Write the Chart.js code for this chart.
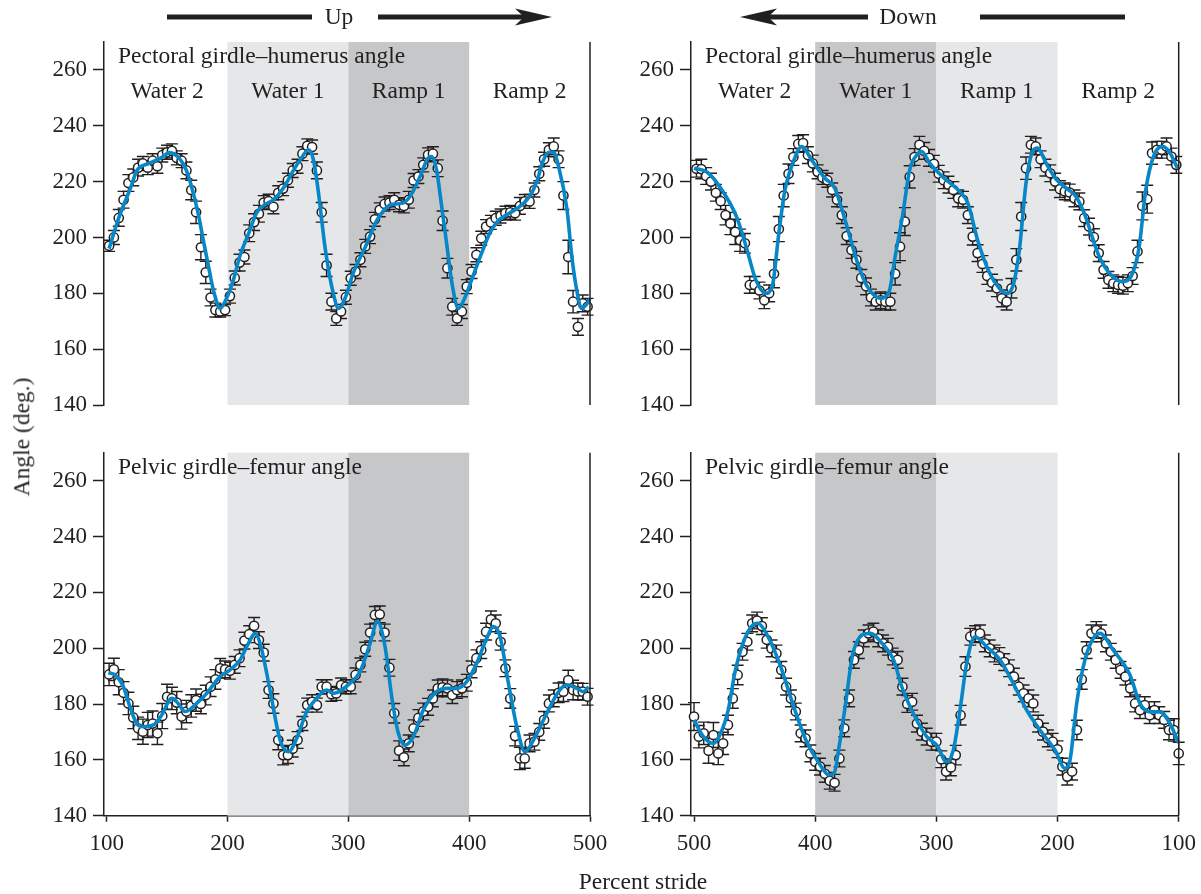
<!DOCTYPE html>
<html><head><meta charset="utf-8">
<script src="https://cdn.jsdelivr.net/npm/chart.js@4.4.1/dist/chart.umd.min.js"></script>
<style>
html,body{margin:0;padding:0;background:#fff;}
#wrap{position:relative;width:1201px;height:894px;overflow:hidden;font-family:"Liberation Serif","Times New Roman",serif;color:#231f20;}
canvas{position:absolute;left:0;top:0;}
.lbl{position:absolute;white-space:nowrap;font-size:23.5px;line-height:1;}
svg{position:absolute;left:0;top:0;}
</style></head><body>
<div id="wrap">
<canvas id="c1" width="1201" height="894"></canvas>
<canvas id="c2" width="1201" height="894"></canvas>
<canvas id="c3" width="1201" height="894"></canvas>
<canvas id="c4" width="1201" height="894"></canvas>
<svg width="1201" height="40" viewBox="0 0 1201 40">
  <rect x="167" y="14.5" width="145" height="5" fill="#231f20"/>
  <rect x="378" y="14.5" width="148" height="5" fill="#231f20"/>
  <polygon points="552,17 515,8.5 524,17 515,25.5" fill="#231f20"/>
  <polygon points="740,17 777,8.5 768,17 777,25.5" fill="#231f20"/>
  <rect x="768" y="14.5" width="100" height="5" fill="#231f20"/>
  <rect x="980" y="14.5" width="145" height="5" fill="#231f20"/>
</svg>
</div>
<script>
// ---------------- data ----------------
const angleTicks = [140,160,180,200,220,240,260];
const strideTicks = [100,200,300,400,500];
const segmentNames = ['Water 2','Water 1','Ramp 1','Ramp 2'];
const segmentCentersUp = [150,250,350,450];
const segmentCentersDown = [450,350,250,150];

const strideUp = [102,106,110,114,118,122,126,130,134,138,142,146,150,154,158,162,166,170,174,178,182,186,190,194,198,
202,206,210,214,218,222,226,230,234,238,242,246,250,254,258,262,266,270,274,278,282,286,290,294,298,
302,306,310,314,318,322,326,330,334,338,342,346,350,354,358,362,366,370,374,378,382,386,390,394,398,
402,406,410,414,418,422,426,430,434,438,442,446,450,454,458,462,466,470,474,478,482,486,490,494,498];

const strideDown = [500,496,492,488,484,480,476,472,468,464,460,456,452,448,444,440,436,432,428,424,420,416,412,408,404,
400,396,392,388,384,380,376,372,368,364,360,356,352,348,344,340,336,332,328,324,320,316,312,308,304,
300,296,292,288,284,280,276,272,268,264,260,256,252,248,244,240,236,232,228,224,220,216,212,208,204,
200,196,192,188,184,180,176,172,168,164,160,156,152,148,144,140,136,132,128,124,120,116,112,108,104,100];

const strideDownPectoral = [498,494,490,486,482,478,474,470,466,462,458,454,450,446,442,438,434,430,426,422,418,414,410,406,402,
398,394,390,386,382,378,374,370,366,362,358,354,350,346,342,338,334,330,326,322,318,314,310,306,302,
298,294,290,286,282,278,274,270,266,262,258,254,250,246,242,238,234,230,226,222,218,214,210,206,202,
198,194,190,186,182,178,174,170,166,162,158,154,150,146,142,138,134,130,126,122,118,114,110,106,102];

// Pectoral girdle–humerus angle, Up
const pectoralUp = [197,200,207,213.5,219.5,221.5,225,226.5,225,227.5,225.5,229.5,230.5,231,228.5,227.5,224,217,209,196.5,187.5,178.5,174,173.5,174,
179,185.5,191,193,201.5,205.5,208.5,212.5,213,211,216,217.5,220.5,224,225.5,230,232.8,232.4,224,209,190,177,171,173.5,178.6,
185.4,187.8,192,196.8,200.3,206.5,209.9,212,212.5,213.5,211.7,211.3,213.5,220.4,221.8,226,229.6,230,224.8,206,189,175.2,171,173.5,182.4,
187.8,193.8,199.7,203.9,205.4,206.9,207.7,208.7,209,208.7,211.3,212.9,212.9,217,222.8,228,231.4,232.6,228,215,193,177,168,176.4,175.2];
const pectoralUpErr = [2,2.5,3,3,3,3,3,2.5,2.5,2.5,2.5,2.5,2.5,2.5,2.5,2.5,3,
3.5,4,4.5,4,3,2.5,2,2,
2.5,2.5,3,2.5,3,3,3,2.5,2.5,2.5,2.5,2.5,2.5,2.5,2.5,2.5,2.5,2.5,
3,3.5,4,3,2.5,2.5,2.5,
2.5,2.5,2.5,2.5,2.5,2.5,2.5,2.5,2.5,2.5,2.5,2.5,3,2.5,2.5,2.5,2.5,2.5,
3,3.5,3.5,3,2.5,2.5,2.5,
2.5,2.5,2.5,2.5,2.5,2.5,2.5,2.5,2.5,2.5,3,2.5,2.5,2.5,2.5,2.5,2.5,3,
3,5,6,4,3,3,3];
const pectoralUpFitX = [102,110,120,125,135,145,152,160,166,171,176,180,185,189,194,199,205,210,218,224,230,238,246,254,262,267,271,275,281,287,292,298,304,314,323,330,335,345,351,358,366,369,373,377,381,386,391,396,403,410,417,424,431,440,450,456,461,466,470,474,481,485,489,493,497,500];
const pectoralUpFitY = [196,207,218,224,226.5,228.5,230.4,228.4,224,217,208,199,188,180,174.6,178,185,193,202,208.7,211.5,213.5,217.5,223.6,229,231.4,228,217,195.6,181,174.6,179,187.2,196.5,205.7,210,211.7,212.3,214.7,220.5,228.4,229,224.2,212,199,183,174.6,178,186,194,201.5,206,208.1,210.5,214.7,220,227.2,230.5,230.4,225.4,209.9,193,181.2,174.6,176,178];

// Pectoral girdle–humerus angle, Down
const pectoralDown = [224.6,224.5,222,220,216,213,208,205,202,199,197.9,183,183,181,177.5,180,187,203,215,222.8,228.8,233.5,233.8,229.5,226.5,
223.5,221.5,220.5,217,213.5,208,200.5,195.5,192,185.5,182.5,178.5,177,177.5,177,177,187,196.7,205.7,221.7,228.8,233.2,231,228.5,226.4,
222.8,220.5,218.9,217,214,213.5,208,200.3,194.4,190.5,186.2,183.8,181.8,178.2,177,181.8,192,207.5,224.8,233.2,232.6,228,225,223,220,
217.3,216.5,216.1,214,212.9,206.9,203.9,200.1,194.4,188.4,184.8,183.6,183,182.7,183.6,186.2,195,211.3,213.7,230.2,231.4,231.4,232.6,229,226];
const pectoralDownErr = [3,3.5,3,3,3,3,3.5,4,4.5,4,3.5,3,3,3,
3,3,5,4.5,4,3.5,3,3,3,3,3,
2.5,2.5,2.5,2.5,2.5,3,3,3,3,3,3,3,3,3,
3,3,4,5,5,4,3,3,
3,3,3,3,3,3,3,3,3,3,3,3,3,3,3,3,3,3,
3.5,4,5,4,3,3,
3,3,3,3,3,3,3,3,3,3,3,3,3,3,3,3,3,3,3,3,
4,5,5,4,3,3,3,3,3];
const pectoralDownFitX = [500,490,479,465,457,449,441,435.5,430,425,418,411,403,392,384,373,365,357,346,339,334,328,322,316,312,305.5,294.5,281,274,266,256,248,242.5,237,231.5,226,220.5,216.4,209.5,201.3,193,184.8,178,165.6,154.6,146.4,138.1,132.6,127.2,120.3,113.4,107.9,101];
const pectoralDownFitY = [224.8,223.6,218.3,207.5,196.7,184.8,180,182.4,201.5,217,227.2,232.6,227.8,221.2,217.7,202.7,190.8,182.4,178.2,180.6,193.2,207.5,224.2,229.6,230.8,226.6,221.6,216.5,212.3,199.1,187.2,181.8,180,182.4,195.6,219.5,230.8,232,226.6,220.9,217.7,214.7,208.7,193.2,186,184.2,187.2,196.7,217,229.6,232.6,230.8,224.8];

// Pelvic girdle–femur angle, Up
const pelvicUp = [190.6,192.4,187.8,184,180.2,175.2,171.3,170.1,172.5,173,169.5,175.7,182.6,182,180.5,175.5,177.3,179.3,181.4,180,183.2,186.2,188.8,192.8,192.4,
191.9,194,196.4,202.7,205,208,202.9,198.4,185,180.2,167.1,161.7,161.7,164,167.1,173,179.6,180.8,179.6,186.2,186.2,183.5,183.8,186.8,186.2,
186.2,190.4,194,199.6,205.6,211.9,212.1,205.6,193,176.7,163.3,160.9,165.9,171.3,175,177.3,179,182,185.6,186,185.6,183.2,185,185.6,187.6,
192.4,196.4,199.3,205.9,210.3,208.9,202.3,192.8,182,168.5,160.5,160.5,165.9,166.5,170,174.3,180.2,182,184,184.4,188.6,185,184.5,184.4,182.6];
const pelvicUpErr = [4,4,4.5,4,4,4,4,4.5,4.5,4.5,4,4.5,4.5,4,4,4.5,4,4,4,3.5,3.5,3.5,3.5,3.5,3,
3,3,3,3,3,3,3,3,3,3.5,3.5,3.5,3,3,3,2.5,2.5,2.5,2.5,2.5,2.5,2.5,2.5,2.5,2.5,
2.5,2.5,2.5,2.5,3,3,3,3,3,3.5,3.5,3,3,3,3,3,3,3,3,3,3,3,3,3,3,
3,3,3,3,3,3,3,3,3.5,3.5,4,3.5,3,3,3,3,3,3,3.5,3.5,3.5,3.5,3,3,3];
const pelvicUpFitX = [101.4,107,113.8,119.3,124.8,130,138.6,145.5,153.8,158,165,174.5,182.8,193.8,202,210.4,217.3,222.8,227,235.2,243.5,250.4,257.3,265.6,273.8,282,287.6,301.4,309.7,318,324,330.4,335.9,341.4,347,353.8,362,373,381.4,389.7,398,406.2,414.5,420,425.6,432.5,439.4,446.3,453.2,464.2,473.9,480.8,489,494.5,498.7];
const pelvicUpFitY = [191.2,190.4,186.2,179,173,171.9,172.5,176,182,180.8,177.3,180.2,183.8,189.8,192.2,195.8,201.7,205.3,201.7,185,167.1,162.9,167.7,177.3,182,185,183.8,187.4,191.6,201.7,209.5,200.5,182.6,169.5,165.3,168.3,177.8,184.4,185.6,185.6,188,194.6,203.5,207.7,204.1,187.4,171.9,162.9,167.1,176.6,184.4,186.8,185.6,184.4,186.2];

// Pelvic girdle–femur angle, Down
const pelvicDown = [175.5,168.3,169.5,163.3,168.9,162.3,165.9,172.5,182,190.4,198.7,202.3,208.9,209.9,207.9,203,199.9,198.1,192.2,186.2,182,177.3,169.5,167.7,162.3,
159.3,157.6,155,152.5,151.8,160.5,171.3,182,195.8,199.3,203.5,205.3,205.9,203.5,201.7,200.5,197,195.8,186.2,180,180.8,173,170.1,168.3,166.5,
166.5,160.2,155.8,157.3,161.7,176,193.4,204.1,205,205.3,201.7,199.9,198.1,197.2,195,192.8,189.8,186.2,183.8,182,180.2,173,170.1,167.7,166.5,
163.8,157.6,154,155.8,170.7,188.8,199.3,205.3,206.5,205.3,201.7,198.7,195.8,192.2,189.8,185.6,180.2,177.8,179.6,176,177.8,176,174.3,170.7,170.7,162.3];
const pelvicDownErr = [5,4,4,4.5,4.5,4,4,3.5,3.5,3.5,3,
3,3,3,3,3,3,3,3,3,3,3,3,3,3,
3,3,3,3,3,3,3,3,3,3,3,3,3,3,
3,3,3,3,3,3,3,3,3,3,3,3,
3,3,3,3.5,3.5,3.5,3,3,3,3,3,3,
3,3,3,3,3,3,3,3,3,3,3,3,3,
3,3,3,3.5,3.5,3,3,3,3,3,3,3,3,
3,3,3,3,3,3,3,3,3,3.5,4,4];
const pelvicDownFitX = [500,492.3,484,478.7,471.8,466.4,459.6,452.7,447.3,440.4,429.5,418.6,407.7,396.7,388.5,384.4,380.3,374.9,369.4,361.2,354.4,344.8,335.3,328.4,319,308,299.7,291.5,286,280.5,275,268.1,258.5,247.5,236.5,225.5,214.5,202.1,193.9,189.7,184.2,177.4,170.5,165,154,140.2,132,123.7,115.5,107.2,100];
const pelvicDownFitY = [174.3,168.3,165.9,168.9,177.8,191,201.7,207.7,208.9,205.3,194.6,180.2,167.1,158.7,154.6,155.2,164.7,180.2,197,204.7,205.3,201.7,195.8,186,176.6,168.3,165.3,159.3,163.5,177.8,194.6,204.1,200.5,195.8,187.4,177.8,170.7,163.5,157,159.9,180.2,195.8,203.5,205.3,199.3,190.4,180.2,177.2,177.2,173,166];

// ---------------- style ----------------
const INK = '#231f20';
const LIGHT = '#e6e7e8';
const DARK = '#c6c7c8';
const BLUE = '#0787c8';
const FONT = 'Liberation Serif';

const wrap = document.getElementById('wrap');

function addText(text, x, baseline, center) {
  const d = document.createElement('div');
  d.className = 'lbl';
  d.textContent = text;
  d.style.left = x + 'px';
  d.style.top = (baseline - 20) + 'px';
  if (center) d.style.transform = 'translateX(-50%)';
  wrap.appendChild(d);
  return d;
}

function decor(p) {
  return {
    id: 'decor' + p.id,
    beforeDatasetsDraw(chart) {
      const {ctx, chartArea: a, scales: {x, y}} = chart;
      ctx.save();
      p.bands.forEach(b => {
        const x1 = x.getPixelForValue(b.from), x2 = x.getPixelForValue(b.to);
        ctx.fillStyle = b.color;
        ctx.fillRect(Math.min(x1, x2), a.top, Math.abs(x2 - x1), a.bottom - a.top);
      });
      ctx.strokeStyle = INK;
      ctx.lineWidth = 1.4;
      for (let i = 0; i < p.ys.length && i < p.xs.length; i++) {
        const px = x.getPixelForValue(p.xs[i]);
        const t = y.getPixelForValue(p.ys[i] + p.err[i]);
        const bt = y.getPixelForValue(p.ys[i] - p.err[i]);
        ctx.beginPath();
        ctx.moveTo(px, t); ctx.lineTo(px, bt);
        ctx.moveTo(px - 6, t); ctx.lineTo(px + 6, t);
        ctx.moveTo(px - 6, bt); ctx.lineTo(px + 6, bt);
        ctx.stroke();
      }
      ctx.restore();
    },
    afterDatasetsDraw(chart) {
      const {ctx, chartArea: a} = chart;
      ctx.save();
      ctx.strokeStyle = INK;
      ctx.lineWidth = 1.5;
      ctx.beginPath();
      ctx.moveTo(a.right, a.top); ctx.lineTo(a.right, a.bottom);
      ctx.stroke();
      ctx.restore();
    }
  };
}

function makePanel(p) {
  const xAxis = {
    type: 'linear',
    min: p.xmin, max: p.xmax, reverse: p.reverse,
    display: p.showX,
    afterBuildTicks: s => { s.ticks = strideTicks.map(v => ({value: v})); },
    afterFit: s => { s.height = p.showX ? 45 : 0; },
    grid: {display: true, drawOnChartArea: false, drawTicks: true, tickLength: 6, tickColor: INK, tickWidth: 1.5},
    border: {display: true, color: INK, width: 1.5},
    ticks: {color: INK, font: {family: FONT, size: 23}, padding: 8, maxRotation: 0, autoSkip: false}
  };
  const yAxis = {
    type: 'linear', min: 140, max: 270,
    afterBuildTicks: s => { s.ticks = angleTicks.map(v => ({value: v})); },
    afterFit: s => { s.width = 60; },
    grid: {display: true, drawOnChartArea: false, drawTicks: true, tickLength: 11, tickColor: INK, tickWidth: 1.5},
    border: {display: true, color: INK, width: 1.5},
    ticks: {color: INK, font: {family: FONT, size: 23}, padding: 6, autoSkip: false}
  };
  const chart = new Chart(document.getElementById(p.canvas), {
    type: 'scatter',
    data: {
      datasets: [
        {
          data: p.fitX.map((v, i) => ({x: v, y: p.fitY[i]})),
          showLine: true, borderColor: BLUE, borderWidth: 3.6, pointRadius: 0,
          cubicInterpolationMode: 'monotone', order: 0, clip: false
        },
        {
          data: p.xs.map((v, i) => ({x: v, y: p.ys[i]})),
          showLine: false, pointRadius: 4.6, pointBackgroundColor: '#ffffff',
          pointBorderColor: INK, pointBorderWidth: 1.5, order: 1, clip: false
        }
      ]
    },
    options: {
      responsive: false, animation: false, devicePixelRatio: 1,
      layout: {padding: p.padding},
      plugins: {legend: {display: false}, tooltip: {enabled: false}},
      events: [],
      scales: {x: xAxis, y: yAxis}
    },
    plugins: [decor(p)]
  });
  const a = chart.chartArea;
  addText(p.title, a.left + 14, a.top + 22, false);
  if (p.segCenters) {
    p.segCenters.forEach((c, i) => addText(segmentNames[i], chart.scales.x.getPixelForValue(c), a.top + 57, true));
  }
  return chart;
}

const upBands = [{from: 200, to: 300, color: LIGHT}, {from: 300, to: 400, color: DARK}];
const downBands = [{from: 400, to: 300, color: DARK}, {from: 300, to: 200, color: LIGHT}];

makePanel({id: 1, canvas: 'c1', xs: strideUp, ys: pectoralUp, err: pectoralUpErr, fitX: pectoralUpFitX, fitY: pectoralUpFitY,
  xmin: 97.8, xmax: 500, reverse: false, showX: false, bands: upBands,
  padding: {left: 44, right: 611, top: 42, bottom: 489},
  title: 'Pectoral girdle–humerus angle', segCenters: segmentCentersUp});
makePanel({id: 2, canvas: 'c2', xs: strideDownPectoral, ys: pectoralDown, err: pectoralDownErr, fitX: pectoralDownFitX, fitY: pectoralDownFitY,
  xmin: 100, xmax: 502.5, reverse: true, showX: false, bands: downBands,
  padding: {left: 631, right: 22.3, top: 42, bottom: 489},
  title: 'Pectoral girdle–humerus angle', segCenters: segmentCentersDown});
makePanel({id: 3, canvas: 'c3', xs: strideUp, ys: pelvicUp, err: pelvicUpErr, fitX: pelvicUpFitX, fitY: pelvicUpFitY,
  xmin: 97.8, xmax: 500, reverse: false, showX: true, bands: upBands,
  padding: {left: 44, right: 611, top: 452.7, bottom: 33.3},
  title: 'Pelvic girdle–femur angle'});
makePanel({id: 4, canvas: 'c4', xs: strideDown, ys: pelvicDown, err: pelvicDownErr, fitX: pelvicDownFitX, fitY: pelvicDownFitY,
  xmin: 100, xmax: 502.5, reverse: true, showX: true, bands: downBands,
  padding: {left: 631, right: 22.3, top: 452.7, bottom: 33.3},
  title: 'Pelvic girdle–femur angle'});

addText('Up', 339, 25, true);
addText('Down', 908, 25, true);
addText('Percent stride', 643, 890, true);
const ang = document.createElement('div');
ang.className = 'lbl';
ang.textContent = 'Angle (deg.)';
ang.style.left = '22px';
ang.style.top = '437px';
ang.style.transform = 'translate(-50%,-50%) rotate(-90deg)';
wrap.appendChild(ang);
</script>
</body></html>
